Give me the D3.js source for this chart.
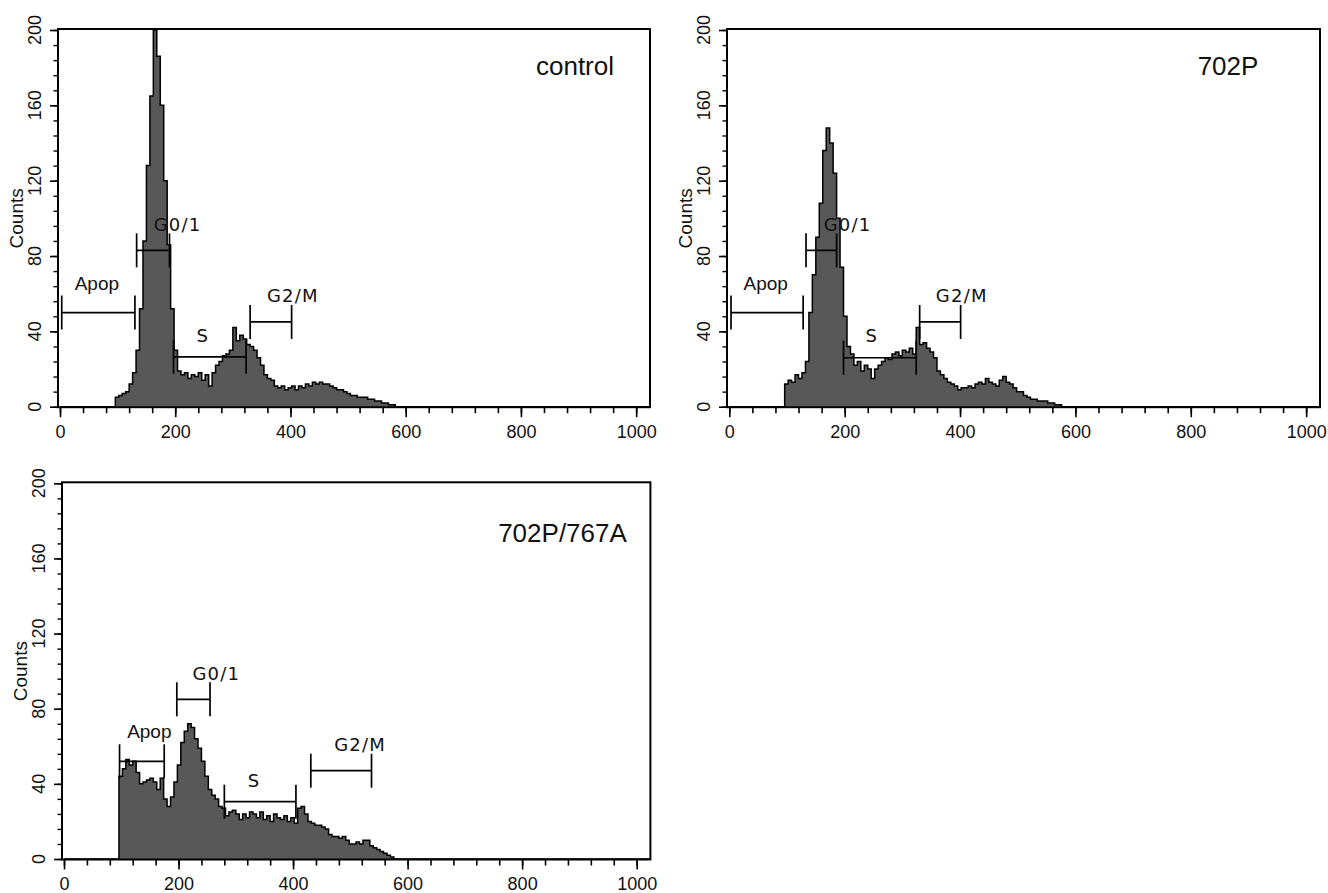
<!DOCTYPE html>
<html>
<head>
<meta charset="utf-8">
<script src="https://cdn.jsdelivr.net/npm/d3@7"></script>
<style>
  body { margin: 0; background: #fff; }
  text { font-family: "Liberation Sans", Arial, Helvetica, sans-serif; fill: #111; }
  .gate text { font-family: "DejaVu Sans", sans-serif; letter-spacing: 1.2px; }
</style>
</head>
<body>
<svg id="chart"></svg>
<script>
// histogram channels: first bin starts at 96, each bin 6 channels wide
const binStart = 96;
const binWidth = 6;

const controlCounts = [5, 6, 7, 8, 12, 18, 30, 52, 88, 128, 165, 200, 186, 160, 120, 86, 52, 30, 19, 17,
  18, 15, 17, 16, 18, 14, 17, 11, 18, 22, 24, 27, 28, 30, 42, 35, 38, 36, 33, 32,
  30, 26, 22, 17, 15, 14, 11, 10, 11, 9, 10, 11, 9, 11, 10, 12, 11, 13, 12, 13,
  12, 12, 11, 10, 9, 9, 8, 7, 6, 6, 5, 5, 5, 4, 4, 3, 3, 2, 2, 1, 1];

const p702Counts = [12, 14, 13, 17, 15, 18, 24, 50, 70, 90, 108, 136, 148, 140, 124, 100, 74, 48, 32, 28,
  22, 24, 19, 22, 20, 15, 20, 22, 24, 26, 25, 28, 29, 27, 30, 29, 31, 28, 42, 33,
  34, 31, 29, 26, 19, 17, 15, 13, 12, 11, 9, 10, 10, 11, 10, 12, 13, 12, 15, 13,
  12, 11, 14, 16, 13, 12, 10, 8, 8, 6, 5, 4, 4, 3, 3, 3, 2, 2, 1, 1, 0];

const p702a767Counts = [44, 48, 53, 50, 52, 46, 40, 41, 42, 43, 41, 37, 43, 32, 28, 33, 41, 50, 62, 68,
  72, 70, 64, 59, 52, 44, 37, 34, 32, 28, 27, 23, 25, 26, 24, 21, 24, 22, 25, 24,
  22, 25, 21, 23, 20, 24, 22, 21, 23, 20, 22, 19, 27, 28, 24, 20, 19, 18, 18, 17,
  16, 13, 12, 12, 11, 12, 10, 8, 8, 9, 8, 10, 10, 7, 6, 5, 4, 3, 2, 1, 0];

// gates: [name, from, to, level, label x, label y] in channel / count units
const controlGates = [
  ["Apop", 3, 130, 50, 64, 65.7],
  ["G0/1", 133, 190, 83, 204, 96.5],
  ["S", 197, 323, 26.5, 248, 38],
  ["G2/M", 330, 402, 45, 404, 59]
];
const p702Gates = [
  ["Apop", 3, 128, 50, 63, 65.7],
  ["G0/1", 133, 186, 83, 205, 96.5],
  ["S", 198, 324, 26, 247, 38],
  ["G2/M", 330, 401, 45, 403, 59]
];
const p702a767Gates = [
  ["Apop", 97, 175, 52, 149, 67.8],
  ["G0/1", 197, 255, 85, 266, 98.9],
  ["S", 280, 405, 30.5, 332, 42],
  ["G2/M", 431, 537, 47, 517, 60.7]
];

const panelNames = ["control", "702P", "702P/767A"];
const xTickValues = [0, 200, 400, 600, 800, 1000];
const yTickValues = [0, 40, 80, 120, 160, 200];
const xMinorStep = 40;
const yMinorStep = 8;
const yLabel = "Counts";

const width = 1328;
const height = 893;
const svg = d3.select("#chart").attr("width", width).attr("height", height);

// placement of each panel on the page
const layout = [
  { left: 60, right: 650, frameLeft: 58, top: 30, bottom: 406.7, titleX: 575, titleY: 75 },
  { left: 729.3, right: 1320, frameLeft: 727, top: 30, bottom: 406.7, titleX: 1228, titleY: 75 },
  { left: 64, right: 650.4, frameLeft: 62, top: 483.3, bottom: 859, titleX: 562.5, titleY: 541.7 }
];

const panels = [
  { name: panelNames[0], counts: controlCounts, gates: controlGates },
  { name: panelNames[1], counts: p702Counts, gates: p702Gates },
  { name: panelNames[2], counts: p702a767Counts, gates: p702a767Gates }
];

function drawPanel(p, L) {
  var x = d3.scaleLinear().domain([0, 1024]).range([L.left, L.right]);
  var y = d3.scaleLinear().domain([0, 200]).range([L.bottom, L.top]);
  var g = svg.append("g");
  var axisY = L.bottom + 0.5;

  var pts = p.counts.map((c, i) => [binStart + i * binWidth, c]);
  pts.push([binStart + p.counts.length * binWidth, 0]);

  var area = d3.area()
      .x(d => x(d[0]))
      .y0(y(0))
      .y1(d => y(d[1]))
      .curve(d3.curveStepAfter);
  g.append("path").datum(pts)
      .attr("d", area)
      .attr("fill", "#585858");

  var line = d3.line()
      .x(d => x(d[0]))
      .y(d => y(d[1]))
      .curve(d3.curveStepAfter);
  g.append("path").datum([[0, 0]].concat(pts, [[1024, 0]]))
      .attr("d", line)
      .attr("fill", "none")
      .attr("stroke", "#000")
      .attr("stroke-width", 1.5);

  // frame
  g.append("rect")
      .attr("x", L.frameLeft)
      .attr("y", y(200) - 1)
      .attr("width", L.right - L.frameLeft)
      .attr("height", axisY - y(200) + 1)
      .attr("fill", "none")
      .attr("stroke", "#000")
      .attr("stroke-width", 2);

  // x axis: minor then major ticks
  g.append("g").attr("transform", `translate(0,${axisY})`)
      .call(d3.axisBottom(x).tickValues(d3.range(0, 1001, xMinorStep)).tickSize(6).tickFormat(""))
      .call(a => a.select(".domain").remove())
      .call(a => a.selectAll("line").attr("stroke", "#000").attr("stroke-width", 1.6));
  g.append("g").attr("transform", `translate(0,${axisY})`)
      .call(d3.axisBottom(x).tickValues(xTickValues).tickSize(10).tickPadding(8).tickFormat(d3.format("d")))
      .call(a => a.select(".domain").remove())
      .call(a => a.selectAll("line").attr("stroke", "#000").attr("stroke-width", 1.6))
      .call(a => a.selectAll("text")
          .attr("fill", "#111")
          .style("font-family", "'Liberation Sans', Arial, sans-serif")
          .style("font-size", "18px"));

  // y axis
  g.append("g").attr("transform", `translate(${L.frameLeft},0)`)
      .call(d3.axisLeft(y).tickValues(d3.range(0, 201, yMinorStep)).tickSize(4.5).tickFormat(""))
      .call(a => a.select(".domain").remove())
      .call(a => a.selectAll("line").attr("stroke", "#000").attr("stroke-width", 1.4));
  g.append("g").attr("transform", `translate(${L.frameLeft},0)`)
      .call(d3.axisLeft(y).tickValues(yTickValues).tickSize(8).tickFormat(""))
      .call(a => a.select(".domain").remove())
      .call(a => a.selectAll("line").attr("stroke", "#000").attr("stroke-width", 1.6));

  g.selectAll(".ylab")
    .data(yTickValues)
    .enter().append("text")
      .attr("class", "ylab")
      .attr("transform", d => `translate(${L.frameLeft - 17},${y(d)}) rotate(-90)`)
      .attr("text-anchor", "middle")
      .style("font-size", "18px")
      .text(d => d);

  g.append("text")
      .attr("transform", `translate(${L.frameLeft - 35},${(y(0) + y(200)) / 2}) rotate(-90)`)
      .attr("text-anchor", "middle")
      .style("font-size", "19px")
      .text(yLabel);

  g.append("text")
      .attr("x", L.titleX)
      .attr("y", L.titleY)
      .attr("text-anchor", "middle")
      .style("font-size", "26px")
      .text(p.name);

  // gate markers
  var gg = g.selectAll(".gate")
    .data(p.gates)
    .enter().append("g")
      .attr("class", "gate");
  gg.append("line")
      .attr("x1", d => x(d[1])).attr("x2", d => x(d[2]))
      .attr("y1", d => y(d[3])).attr("y2", d => y(d[3]));
  gg.append("line")
      .attr("x1", d => x(d[1])).attr("x2", d => x(d[1]))
      .attr("y1", d => y(d[3]) - 17).attr("y2", d => y(d[3]) + 17);
  gg.append("line")
      .attr("x1", d => x(d[2])).attr("x2", d => x(d[2]))
      .attr("y1", d => y(d[3]) - 17).attr("y2", d => y(d[3]) + 17);
  gg.selectAll("line").attr("stroke", "#000").attr("stroke-width", 1.7);
  gg.append("text")
      .attr("x", d => x(d[4]))
      .attr("y", d => y(d[5]))
      .attr("dy", "0.36em")
      .attr("text-anchor", "middle")
      .style("font-size", "18px")
      .style("font-family", d => d[0] == "Apop" ? "'Liberation Sans', Arial, sans-serif" : null)
      .style("font-size", d => d[0] == "Apop" ? "19px" : "18px")
      .style("letter-spacing", d => d[0] == "Apop" ? "0px" : null)
      .text(d => d[0]);
}

panels.forEach((p, i) => drawPanel(p, layout[i]));
</script>
</body>
</html>
